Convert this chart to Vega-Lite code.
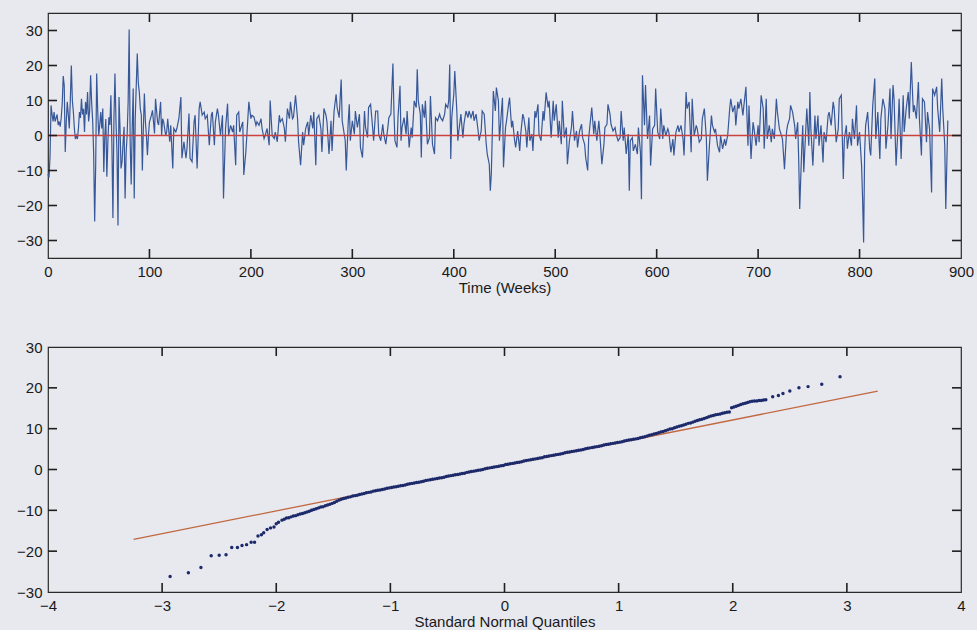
{
"$schema":"https://vega.github.io/schema/vega-lite/v6.json",
"background":"#e8e8ef",
"padding":{"left":15,"top":12,"right":5,"bottom":0},
"spacing":89,
"bounds":"flush",
"config":{
 "view":{"stroke":"#2a2a2a","strokeWidth":1.2},
 "axis":{"domain":false,"grid":false,"ticks":false,"labelFont":"Liberation Sans","labelFontSize":15,"labelColor":"#1a1a1a","labelFlush":false,"labelOverlap":false,"titleFont":"Liberation Sans","titleFontSize":15,"titleFontWeight":"normal","titleColor":"#1a1a1a"},
 "axisX":{"labelPadding":6,"titlePadding":1},
 "axisY":{"labelPadding":6},
 "tick":{"color":"#1f1f1f","thickness":1.6,"opacity":1}
},
"vconcat":[
{
 "width":913,"height":245,
 "layer":[
  {"data":{"values":[
{"w":0,"v":-11},{"w":1,"v":-12},{"w":2,"v":-6},{"w":3,"v":8.6},{"w":4,"v":6},{"w":5,"v":4},{"w":6,"v":6.7},{"w":7,"v":4},{"w":8,"v":5},{"w":9,"v":6},{"w":10,"v":3},{"w":11,"v":4},{"w":12,"v":2.5},{"w":13,"v":5},{"w":14,"v":9},{"w":15,"v":17},{"w":16,"v":14.3},{"w":17,"v":-4.7},{"w":18,"v":4},{"w":19,"v":9.6},{"w":20,"v":6},{"w":21,"v":2},{"w":22,"v":10},{"w":23,"v":20},{"w":24,"v":10},{"w":25,"v":6.7},{"w":26,"v":2},{"w":27,"v":-1},{"w":28,"v":0},{"w":29,"v":-1},{"w":30,"v":2},{"w":31,"v":6.7},{"w":32,"v":5},{"w":33,"v":10.5},{"w":34,"v":6},{"w":35,"v":7.6},{"w":36,"v":1},{"w":37,"v":9.6},{"w":38,"v":6},{"w":39,"v":12.4},{"w":40,"v":4},{"w":41,"v":6.7},{"w":42,"v":17.2},{"w":43,"v":9.6},{"w":44,"v":4.4},{"w":45,"v":-5},{"w":46,"v":-24.6},{"w":47,"v":-8.5},{"w":48,"v":17.7},{"w":49,"v":7},{"w":50,"v":0},{"w":51,"v":3},{"w":52,"v":6.7},{"w":53,"v":2},{"w":54,"v":7.7},{"w":55,"v":-10.4},{"w":56,"v":0},{"w":57,"v":4.7},{"w":58,"v":-11.8},{"w":59,"v":-2},{"w":60,"v":5.2},{"w":61,"v":3},{"w":62,"v":11.5},{"w":63,"v":-2.8},{"w":64,"v":-23.6},{"w":65,"v":5},{"w":66,"v":17.7},{"w":67,"v":4},{"w":68,"v":-4.7},{"w":69,"v":-25.7},{"w":70,"v":11},{"w":71,"v":2},{"w":72,"v":-9.4},{"w":73,"v":-7.5},{"w":74,"v":-2},{"w":75,"v":2.5},{"w":76,"v":-18},{"w":77,"v":-5},{"w":78,"v":0},{"w":79,"v":9.6},{"w":80,"v":30.3},{"w":81,"v":-1.9},{"w":82,"v":-14},{"w":83,"v":2},{"w":84,"v":13.4},{"w":85,"v":-18},{"w":86,"v":5},{"w":87,"v":14.3},{"w":88,"v":23.4},{"w":89,"v":15},{"w":90,"v":12.4},{"w":91,"v":7.6},{"w":92,"v":5.8},{"w":93,"v":-10},{"w":94,"v":2},{"w":95,"v":12},{"w":96,"v":4},{"w":97,"v":0},{"w":98,"v":-5.6},{"w":99,"v":0},{"w":100,"v":3.8},
{"w":102,"v":5.8},{"w":103,"v":7.2},{"w":105,"v":0.6},{"w":106,"v":10.5},{"w":108,"v":3.9},{"w":109,"v":3},{"w":111,"v":9.6},{"w":112,"v":0.1},{"w":113,"v":4.8},{"w":114,"v":3.9},{"w":116,"v":0},{"w":117,"v":1},{"w":118,"v":4.8},{"w":120,"v":-1.8},{"w":121,"v":2.9},{"w":123,"v":-9.4},{"w":124,"v":2},{"w":126,"v":1},{"w":127,"v":2},{"w":129,"v":4.8},{"w":131,"v":11},{"w":132,"v":-6.5},{"w":134,"v":-1.8},{"w":136,"v":-6.5},{"w":137,"v":-3.7},{"w":139,"v":6.3},{"w":140,"v":-6.5},{"w":142,"v":-7.5},{"w":144,"v":3.9},{"w":145,"v":5.8},{"w":147,"v":-9.4},{"w":149,"v":7.7},{"w":150,"v":9.6},{"w":152,"v":5.8},{"w":154,"v":6.7},{"w":155,"v":4.8},{"w":157,"v":5.8},{"w":159,"v":-2.8},{"w":161,"v":5.8},{"w":162,"v":6.7},{"w":164,"v":-2.8},{"w":165,"v":3.9},{"w":167,"v":7.7},{"w":168,"v":5.8},{"w":170,"v":0},{"w":172,"v":5.8},{"w":173,"v":-18},{"w":175,"v":2},{"w":177,"v":9.1},{"w":178,"v":0},{"w":180,"v":2.9},{"w":182,"v":1},{"w":183,"v":2.9},{"w":185,"v":-8.5},{"w":186,"v":5.8},{"w":188,"v":6.7},{"w":189,"v":1},{"w":190,"v":2},{"w":192,"v":3.9},{"w":193,"v":-11.3},{"w":195,"v":-4.7},{"w":196,"v":0},{"w":198,"v":9.6},{"w":200,"v":4.8},{"w":201,"v":5.8},{"w":203,"v":5.3},{"w":205,"v":2.9},{"w":206,"v":3.9},{"w":208,"v":2.9},{"w":210,"v":4.8},{"w":211,"v":2},{"w":213,"v":-0.9},{"w":214,"v":0},{"w":216,"v":2},{"w":218,"v":-2.8},{"w":219,"v":10},{"w":221,"v":0},{"w":223,"v":-0.9},{"w":224,"v":1},{"w":226,"v":-1.8},{"w":228,"v":5.8},{"w":229,"v":3.9},{"w":231,"v":4.8},{"w":233,"v":2},{"w":234,"v":-1.8},{"w":236,"v":7.7},{"w":238,"v":4.8},{"w":239,"v":9.6},{"w":241,"v":4.8},{"w":242,"v":5.3},{"w":244,"v":11.5},{"w":246,"v":4.8},{"w":247,"v":-1.8},{"w":249,"v":-8.5},{"w":251,"v":1},{"w":252,"v":-2.8},{"w":254,"v":2},{"w":256,"v":3.9},{"w":257,"v":0},{"w":259,"v":5.8},{"w":261,"v":2},{"w":262,"v":6.7},{"w":264,"v":-8.5},{"w":265,"v":4.8},{"w":267,"v":5.8},{"w":269,"v":2},{"w":270,"v":-4.7},{"w":272,"v":7.7},{"w":274,"v":5.8},{"w":275,"v":3.9},
{"w":277,"v":-5.3},{"w":279,"v":4.2},{"w":280,"v":-4.4},{"w":282,"v":7},{"w":284,"v":11.8},{"w":285,"v":8},{"w":287,"v":5.1},{"w":289,"v":16},{"w":290,"v":4.2},{"w":292,"v":0.4},{"w":293,"v":-1.5},{"w":294,"v":-10},{"w":296,"v":4.2},{"w":297,"v":8.9},{"w":298,"v":-1.5},{"w":300,"v":4.2},{"w":302,"v":0.4},{"w":303,"v":7},{"w":305,"v":2.3},{"w":307,"v":6.1},{"w":308,"v":-3.4},{"w":310,"v":-6.3},{"w":312,"v":7},{"w":313,"v":2.3},{"w":315,"v":-0.6},{"w":316,"v":8},{"w":318,"v":8.9},{"w":320,"v":2.3},{"w":321,"v":-1.5},{"w":323,"v":7},{"w":325,"v":7},{"w":326,"v":0.4},{"w":328,"v":-1.5},{"w":330,"v":3.2},{"w":331,"v":0.4},{"w":333,"v":-2.5},{"w":335,"v":2.3},{"w":336,"v":5.1},{"w":338,"v":6.1},{"w":340,"v":20.6},{"w":341,"v":7},{"w":342,"v":-1.5},{"w":344,"v":-3.4},{"w":345,"v":5.1},{"w":347,"v":14.2},{"w":348,"v":-1.5},{"w":349,"v":2.3},{"w":351,"v":5.1},{"w":353,"v":0.4},{"w":354,"v":7},{"w":356,"v":-3.4},{"w":358,"v":2.3},{"w":359,"v":-0.6},{"w":361,"v":9.9},{"w":363,"v":8},{"w":364,"v":18.9},{"w":365,"v":9.9},{"w":367,"v":6.1},{"w":368,"v":-6.3},{"w":369,"v":8.9},{"w":371,"v":5.1},{"w":372,"v":9.9},{"w":374,"v":-2.5},{"w":376,"v":-0.6},{"w":377,"v":11.3},{"w":379,"v":-2.5},{"w":381,"v":-5.3},{"w":382,"v":5.1},{"w":384,"v":4.2},{"w":386,"v":6.1},{"w":387,"v":5.1},{"w":389,"v":4.2},{"w":391,"v":6.1},{"w":392,"v":8.9},{"w":394,"v":8},{"w":395,"v":9.9},{"w":396,"v":20.3},{"w":397,"v":-6.7},{"w":398,"v":5.1},{"w":400,"v":11.8},{"w":401,"v":18.4},{"w":403,"v":7},{"w":404,"v":-1.5},{"w":405,"v":1.3},{"w":407,"v":6.1},{"w":409,"v":-0.6},{"w":410,"v":3.2},{"w":412,"v":7},{"w":414,"v":5.1},{"w":415,"v":7},{"w":417,"v":5.1},{"w":419,"v":7},{"w":420,"v":4.2},{"w":422,"v":6.1},{"w":424,"v":1.3},{"w":425,"v":-1.5},{"w":427,"v":1.3},{"w":428,"v":7},{"w":430,"v":6.1},{"w":432,"v":-2.5},{"w":433,"v":-5.3},{"w":435,"v":-8.2},{"w":436,"v":-15.8},{"w":437,"v":-11},{"w":439,"v":12.7},{"w":441,"v":7},{"w":442,"v":13.7},{"w":444,"v":9.9},{"w":445,"v":-1.5},{"w":447,"v":7},{"w":448,"v":10.8},{"w":449,"v":-9.1},{"w":451,"v":2.3},{"w":452,"v":4.2},{"w":454,"v":8.9},{"w":455,"v":10.8},{"w":457,"v":2.3},{"w":458,"v":4.2},{"w":460,"v":-1.5},{"w":461,"v":-3.4},{"w":463,"v":1.3},{"w":465,"v":-4.4},{"w":466,"v":0.4},{"w":468,"v":6.1},{"w":469,"v":5.1},{"w":471,"v":1.3},{"w":472,"v":-3.4},{"w":474,"v":5.1},{"w":475,"v":-1.5},{"w":477,"v":0.4},{"w":478,"v":-4.4},{"w":480,"v":7},{"w":481,"v":5.1},{"w":483,"v":8.9},{"w":484,"v":0.4},{"w":486,"v":-1.5},{"w":488,"v":7},{"w":489,"v":4.2},{"w":491,"v":12.3},{"w":493,"v":8},{"w":494,"v":9.9},{"w":496,"v":-0.6},{"w":498,"v":9.9},{"w":499,"v":4.2},{"w":501,"v":8.9},{"w":503,"v":-0.6},{"w":504,"v":4.2},{"w":506,"v":-2.5},{"w":507,"v":9.9},{"w":509,"v":-0.6},{"w":511,"v":2.3},{"w":512,"v":-8.2},{"w":514,"v":-1.5},{"w":516,"v":2.3},{"w":517,"v":7},{"w":519,"v":-1.5},{"w":521,"v":1.3},{"w":522,"v":-3.4},{"w":524,"v":1.3},{"w":526,"v":3.2},{"w":527,"v":-0.6},{"w":529,"v":-2.5},{"w":530,"v":-6.3},{"w":532,"v":-10},{"w":533,"v":-0.6},{"w":535,"v":5.1},{"w":536,"v":8},{"w":538,"v":0.4},{"w":539,"v":4.2},{"w":541,"v":-1.5},{"w":543,"v":4.2},{"w":544,"v":0.4},{"w":546,"v":-8.2},{"w":548,"v":-2.5},{"w":549,"v":2.3},{"w":551,"v":3.2},{"w":552,"v":8.9},{"w":554,"v":6.1},{"w":555,"v":3.2},{"w":557,"v":1.3},{"w":559,"v":2.3},{"w":560,"v":0.4},{"w":562,"v":-1.5},{"w":564,"v":-0.6},{"w":565,"v":7},{"w":567,"v":-1.5},{"w":568,"v":2.3},{"w":570,"v":-5.3},{"w":572,"v":0.4},{"w":573,"v":-15.8},{"w":574,"v":-1.5},{"w":576,"v":-0.6},{"w":577,"v":-4.4},{"w":579,"v":-2.5},{"w":581,"v":-5.3},{"w":582,"v":2.3},
{"w":584,"v":-4.8},{"w":585,"v":-18.2},{"w":586,"v":17.2},{"w":588,"v":2.9},{"w":589,"v":14.4},{"w":591,"v":-1},{"w":593,"v":5.7},{"w":594,"v":-8.6},{"w":596,"v":1.9},{"w":598,"v":2.9},{"w":599,"v":13.4},{"w":601,"v":1},{"w":603,"v":-1},{"w":604,"v":7.7},{"w":606,"v":-1},{"w":607,"v":2.9},{"w":609,"v":0},{"w":611,"v":1.9},{"w":612,"v":1},{"w":614,"v":-4.8},{"w":616,"v":-1},{"w":617,"v":-5.7},{"w":619,"v":1},{"w":621,"v":2.9},{"w":622,"v":1},{"w":624,"v":2.9},{"w":626,"v":-1},{"w":627,"v":-5.7},{"w":629,"v":12.4},{"w":630,"v":7.7},{"w":632,"v":9.6},{"w":634,"v":-4.8},{"w":635,"v":10.5},{"w":637,"v":0},{"w":639,"v":2.9},{"w":640,"v":1.9},{"w":642,"v":-1.9},{"w":644,"v":-1},{"w":645,"v":4.8},{"w":647,"v":7.7},{"w":649,"v":-1},{"w":650,"v":-12.9},{"w":652,"v":-2.9},{"w":654,"v":5.7},{"w":655,"v":2.9},{"w":657,"v":1},{"w":658,"v":1.9},{"w":660,"v":-2.9},{"w":662,"v":-4.8},{"w":663,"v":0},{"w":665,"v":-3.8},{"w":667,"v":-1},{"w":668,"v":-2.9},{"w":670,"v":0},{"w":672,"v":7.7},{"w":673,"v":10.5},{"w":675,"v":6.7},{"w":677,"v":8.6},{"w":678,"v":2.9},{"w":680,"v":9.6},{"w":681,"v":7.7},{"w":683,"v":10.5},{"w":685,"v":5.7},{"w":686,"v":8.6},{"w":688,"v":13.9},{"w":690,"v":-2.9},{"w":691,"v":8.6},{"w":693,"v":-6.7},{"w":695,"v":3.8},{"w":696,"v":1.9},{"w":698,"v":-2.9},{"w":700,"v":2.9},{"w":701,"v":-1.9},{"w":703,"v":11.5},{"w":705,"v":7.7},{"w":706,"v":-3.8},{"w":708,"v":10.5},{"w":709,"v":-1},{"w":711,"v":2.9},{"w":713,"v":-1.9},{"w":714,"v":1.9},{"w":716,"v":-1},{"w":718,"v":10.5},{"w":719,"v":6.7},{"w":721,"v":1.9},{"w":723,"v":0},{"w":724,"v":-1},{"w":726,"v":-9.6},{"w":728,"v":1},{"w":729,"v":2.9},{"w":731,"v":4.8},{"w":732,"v":8.6},{"w":734,"v":6.7},{"w":736,"v":2.9},{"w":737,"v":-1},{"w":739,"v":3.8},{"w":740,"v":-6.7},{"w":741,"v":-21},{"w":743,"v":-3.8},{"w":744,"v":2.9},{"w":745,"v":-10.5},{"w":747,"v":1.9},{"w":748,"v":7.7},{"w":750,"v":-2.9},{"w":751,"v":12.4},{"w":752,"v":1.9},{"w":754,"v":-8.6},{"w":756,"v":5.7},{"w":757,"v":-1},{"w":759,"v":5.7},{"w":760,"v":-2.9},{"w":762,"v":2.9},{"w":764,"v":-7.7},{"w":765,"v":1},{"w":767,"v":-1.9},{"w":769,"v":5.7},{"w":770,"v":6.7},{"w":772,"v":2.9},{"w":774,"v":9.6},{"w":775,"v":7.7},{"w":777,"v":-1.9},{"w":779,"v":1.9},{"w":780,"v":10.5},{"w":782,"v":11.5},{"w":784,"v":-12.4},{"w":785,"v":-1},{"w":787,"v":2.9},{"w":788,"v":-3.8},{"w":790,"v":1},{"w":792,"v":-2.9},{"w":793,"v":4.8},{"w":795,"v":-1},{"w":797,"v":8.6},{"w":798,"v":-2.9},{"w":800,"v":1},{"w":802,"v":-8.6},{"w":803,"v":-18.2},{"w":804,"v":-30.6},{"w":805,"v":-4.8},{"w":806,"v":2.9},{"w":808,"v":6.7},{"w":810,"v":-3.8},{"w":811,"v":-5.7},{"w":813,"v":8.6},{"w":815,"v":16.3},{"w":816,"v":-1},{"w":818,"v":6.7},{"w":820,"v":-6.7},{"w":821,"v":4.8},{"w":823,"v":10.5},{"w":825,"v":7.7},{"w":826,"v":-3.8},{"w":828,"v":2.9},{"w":830,"v":13.4},{"w":831,"v":-1},{"w":833,"v":14.4},{"w":834,"v":10.5},{"w":836,"v":-8.6},{"w":838,"v":2.9},{"w":839,"v":10.5},{"w":841,"v":-6.7},{"w":843,"v":11.5},{"w":844,"v":1},{"w":846,"v":7.7},{"w":848,"v":12.4},{"w":849,"v":4.8},{"w":851,"v":21},{"w":853,"v":6.7},{"w":854,"v":8.6},{"w":856,"v":4.8},{"w":858,"v":15.3},{"w":859,"v":4.8},{"w":861,"v":-5.7},{"w":862,"v":10.5},{"w":864,"v":9.6},{"w":866,"v":-1.9},{"w":867,"v":6.7},{"w":869,"v":1.9},{"w":871,"v":-16.3},{"w":872,"v":13.4},{"w":874,"v":11.5},{"w":876,"v":13.9},{"w":877,"v":7.7},{"w":879,"v":1},{"w":881,"v":16.3},{"w":882,"v":7.7},{"w":884,"v":-2.9},{"w":885,"v":-21},{"w":887,"v":4.3}
  ]},
   "mark":{"type":"line","color":"#375898","strokeWidth":1.2},
   "encoding":{
    "x":{"field":"w","type":"quantitative","scale":{"domain":[0,900],"nice":false,"zero":false},"axis":{"values":[0,100,200,300,400,500,600,700,800,900],"title":"Time (Weeks)"}},
    "y":{"field":"v","type":"quantitative","scale":{"domain":[-35,35],"nice":false},"axis":{"values":[-30,-20,-10,0,10,20,30],"title":null}}
   }},
  {"data":{"values":[{"m":0}]},
   "mark":{"type":"rule","color":"#c8423f","strokeWidth":1.5},
   "encoding":{"y":{"field":"m","type":"quantitative","scale":{"domain":[-35,35],"nice":false},"axis":null}}},
  {"data":{"values":[{"t":100},{"t":200},{"t":300},{"t":400},{"t":500},{"t":600},{"t":700},{"t":800}]},
   "mark":{"type":"tick","orient":"vertical","size":18,"clip":true},
   "encoding":{"x":{"field":"t","type":"quantitative","scale":{"domain":[0,900],"nice":false,"zero":false},"axis":null},"y":{"datum":-35,"type":"quantitative","scale":{"domain":[-35,35],"nice":false},"axis":null}}},
  {"data":{"values":[{"t":100},{"t":200},{"t":300},{"t":400},{"t":500},{"t":600},{"t":700},{"t":800}]},
   "mark":{"type":"tick","orient":"vertical","size":18,"clip":true},
   "encoding":{"x":{"field":"t","type":"quantitative","scale":{"domain":[0,900],"nice":false,"zero":false},"axis":null},"y":{"datum":35,"type":"quantitative","scale":{"domain":[-35,35],"nice":false},"axis":null}}},
  {"data":{"values":[{"t":-30},{"t":-20},{"t":-10},{"t":0},{"t":10},{"t":20},{"t":30}]},
   "mark":{"type":"tick","orient":"horizontal","size":18,"clip":true},
   "encoding":{"y":{"field":"t","type":"quantitative","scale":{"domain":[-35,35],"nice":false},"axis":null},"x":{"datum":0,"type":"quantitative","scale":{"domain":[0,900],"nice":false,"zero":false},"axis":null}}},
  {"data":{"values":[{"t":-30},{"t":-20},{"t":-10},{"t":0},{"t":10},{"t":20},{"t":30}]},
   "mark":{"type":"tick","orient":"horizontal","size":18,"clip":true},
   "encoding":{"y":{"field":"t","type":"quantitative","scale":{"domain":[-35,35],"nice":false},"axis":null},"x":{"datum":900,"type":"quantitative","scale":{"domain":[0,900],"nice":false,"zero":false},"axis":null}}}
 ],
 "resolve":{"axis":{"x":"independent","y":"independent"}}
},
{
 "width":913,"height":245,
 "layer":[
  {"data":{"values":[{"q":-3.25,"v":-17.1},{"q":3.27,"v":19.2}]},
   "mark":{"type":"line","color":"#c2683f","strokeWidth":1.3},
   "encoding":{
    "x":{"field":"q","type":"quantitative","scale":{"domain":[-4,4],"nice":false,"zero":false},"axis":{"values":[-4,-3,-2,-1,0,1,2,3,4],"title":"Standard Normal Quantiles"}},
    "y":{"field":"v","type":"quantitative","scale":{"domain":[-30,30],"nice":false},"axis":{"values":[-30,-20,-10,0,10,20,30],"title":null}}
   }},
  {"data":{"values":[
{"q":-2.93,"v":-26.2},{"q":-2.77,"v":-25.3},{"q":-2.66,"v":-24.0},{"q":-2.57,"v":-21.1},{"q":-2.50,"v":-21.0},{"q":-2.44,"v":-20.9},{"q":-2.39,"v":-19.1},{"q":-2.34,"v":-19.1},{"q":-2.30,"v":-18.6},{"q":-2.26,"v":-18.4},{"q":-2.22,"v":-17.8},{"q":-2.19,"v":-17.8},{"q":-2.16,"v":-16.3},{"q":-2.13,"v":-16.0},{"q":-2.11,"v":-15.5},{"q":-2.08,"v":-14.7},{"q":-2.05,"v":-14.3},{"q":-2.02,"v":-14.1},{"q":-2.00,"v":-13.3},{"q":-1.98,"v":-12.9},{"q":-1.95,"v":-12.4},
{"q":-1.93,"v":-12.2},{"q":-1.91,"v":-11.9},{"q":-1.89,"v":-11.8},{"q":-1.87,"v":-11.6},{"q":-1.85,"v":-11.4},{"q":-1.83,"v":-11.3},{"q":-1.81,"v":-11.1},{"q":-1.79,"v":-10.9},{"q":-1.77,"v":-10.8},{"q":-1.75,"v":-10.6},{"q":-1.73,"v":-10.4},{"q":-1.71,"v":-10.2},{"q":-1.69,"v":-10.0},{"q":-1.67,"v":-9.8},{"q":-1.65,"v":-9.6},{"q":-1.63,"v":-9.4},{"q":-1.61,"v":-9.2},{"q":-1.59,"v":-9.1},{"q":-1.57,"v":-8.9},{"q":-1.55,"v":-8.7},{"q":-1.53,"v":-8.5},{"q":-1.51,"v":-8.3},{"q":-1.49,"v":-8.1},{"q":-1.47,"v":-7.8},{"q":-1.45,"v":-7.5},{"q":-1.43,"v":-7.3},{"q":-1.41,"v":-7.1},{"q":-1.39,"v":-7.0},{"q":-1.37,"v":-6.8},{"q":-1.35,"v":-6.7},{"q":-1.33,"v":-6.5},{"q":-1.31,"v":-6.4},{"q":-1.29,"v":-6.3},{"q":-1.27,"v":-6.1},{"q":-1.25,"v":-6.0},{"q":-1.23,"v":-5.9},{"q":-1.21,"v":-5.7},{"q":-1.19,"v":-5.6},{"q":-1.17,"v":-5.5},{"q":-1.15,"v":-5.3},{"q":-1.13,"v":-5.2},{"q":-1.11,"v":-5.1},{"q":-1.09,"v":-5.0},{"q":-1.07,"v":-4.9},{"q":-1.05,"v":-4.8},{"q":-1.03,"v":-4.6},{"q":-1.01,"v":-4.5},{"q":-0.99,"v":-4.4},{"q":-0.97,"v":-4.3},{"q":-0.95,"v":-4.2},{"q":-0.93,"v":-4.1},{"q":-0.91,"v":-4.0},{"q":-0.89,"v":-3.9},{"q":-0.87,"v":-3.8},{"q":-0.85,"v":-3.6},{"q":-0.83,"v":-3.5},{"q":-0.81,"v":-3.4},{"q":-0.79,"v":-3.3},{"q":-0.77,"v":-3.2},{"q":-0.75,"v":-3.1},{"q":-0.73,"v":-3.0},{"q":-0.71,"v":-2.9},{"q":-0.69,"v":-2.7},{"q":-0.67,"v":-2.6},{"q":-0.65,"v":-2.5},{"q":-0.63,"v":-2.4},{"q":-0.61,"v":-2.3},{"q":-0.59,"v":-2.2},{"q":-0.57,"v":-2.1},{"q":-0.55,"v":-2.0},{"q":-0.53,"v":-1.9},{"q":-0.51,"v":-1.7},{"q":-0.49,"v":-1.6},{"q":-0.47,"v":-1.5},{"q":-0.45,"v":-1.4},{"q":-0.43,"v":-1.3},{"q":-0.41,"v":-1.2},{"q":-0.39,"v":-1.1},{"q":-0.37,"v":-1.0},{"q":-0.35,"v":-0.9},{"q":-0.33,"v":-0.7},{"q":-0.31,"v":-0.6},{"q":-0.29,"v":-0.5},{"q":-0.27,"v":-0.4},{"q":-0.25,"v":-0.3},{"q":-0.23,"v":-0.2},{"q":-0.21,"v":-0.1},{"q":-0.19,"v":0.0},{"q":-0.17,"v":0.2},{"q":-0.15,"v":0.3},{"q":-0.13,"v":0.4},{"q":-0.11,"v":0.5},{"q":-0.09,"v":0.6},{"q":-0.07,"v":0.7},{"q":-0.05,"v":0.8},{"q":-0.03,"v":0.9},{"q":-0.01,"v":1.0},{"q":0.01,"v":1.2},{"q":0.03,"v":1.3},{"q":0.05,"v":1.4},{"q":0.07,"v":1.5},{"q":0.09,"v":1.6},{"q":0.11,"v":1.7},{"q":0.13,"v":1.8},{"q":0.15,"v":1.9},{"q":0.17,"v":2.1},{"q":0.19,"v":2.2},{"q":0.21,"v":2.3},{"q":0.23,"v":2.4},{"q":0.25,"v":2.5},{"q":0.27,"v":2.6},{"q":0.29,"v":2.7},{"q":0.31,"v":2.8},{"q":0.33,"v":2.9},{"q":0.35,"v":3.1},{"q":0.37,"v":3.2},{"q":0.39,"v":3.3},{"q":0.41,"v":3.4},{"q":0.43,"v":3.5},{"q":0.45,"v":3.6},{"q":0.47,"v":3.7},{"q":0.49,"v":3.8},{"q":0.51,"v":3.9},{"q":0.53,"v":4.1},{"q":0.55,"v":4.2},{"q":0.57,"v":4.3},{"q":0.59,"v":4.4},{"q":0.61,"v":4.5},{"q":0.63,"v":4.6},{"q":0.65,"v":4.7},{"q":0.67,"v":4.8},{"q":0.69,"v":4.9},{"q":0.71,"v":5.1},{"q":0.73,"v":5.2},{"q":0.75,"v":5.3},{"q":0.77,"v":5.4},{"q":0.79,"v":5.5},{"q":0.81,"v":5.6},{"q":0.83,"v":5.7},{"q":0.85,"v":5.8},{"q":0.87,"v":6.0},{"q":0.89,"v":6.1},{"q":0.91,"v":6.2},{"q":0.93,"v":6.3},{"q":0.95,"v":6.4},{"q":0.97,"v":6.5},{"q":0.99,"v":6.6},{"q":1.01,"v":6.7},{"q":1.03,"v":6.8},{"q":1.05,"v":7.0},{"q":1.07,"v":7.1},{"q":1.09,"v":7.2},{"q":1.11,"v":7.3},{"q":1.13,"v":7.4},{"q":1.15,"v":7.5},{"q":1.17,"v":7.6},{"q":1.19,"v":7.8},{"q":1.21,"v":7.9},{"q":1.23,"v":8.0},{"q":1.25,"v":8.2},{"q":1.27,"v":8.4},{"q":1.29,"v":8.5},{"q":1.31,"v":8.7},{"q":1.33,"v":8.8},{"q":1.35,"v":9.0},{"q":1.37,"v":9.2},{"q":1.39,"v":9.3},{"q":1.41,"v":9.5},{"q":1.43,"v":9.7},{"q":1.45,"v":9.9},{"q":1.47,"v":10.0},{"q":1.49,"v":10.2},{"q":1.51,"v":10.4},{"q":1.53,"v":10.6},{"q":1.55,"v":10.7},{"q":1.57,"v":10.9},{"q":1.59,"v":11.1},{"q":1.61,"v":11.3},{"q":1.63,"v":11.4},{"q":1.65,"v":11.6},{"q":1.67,"v":11.8},{"q":1.69,"v":12.0},{"q":1.71,"v":12.2},{"q":1.73,"v":12.3},{"q":1.75,"v":12.5},{"q":1.77,"v":12.7},{"q":1.79,"v":12.9},{"q":1.81,"v":13.1},{"q":1.83,"v":13.2},{"q":1.85,"v":13.4},{"q":1.87,"v":13.5},{"q":1.89,"v":13.6},{"q":1.91,"v":13.8},{"q":1.93,"v":13.9},{"q":1.95,"v":14.0},{"q":1.97,"v":14.1},
{"q":1.99,"v":15.1},{"q":2.01,"v":15.3},{"q":2.03,"v":15.5},{"q":2.05,"v":15.7},{"q":2.07,"v":15.9},{"q":2.09,"v":16.1},{"q":2.11,"v":16.2},{"q":2.13,"v":16.4},{"q":2.15,"v":16.6},{"q":2.17,"v":16.7},{"q":2.19,"v":16.8},{"q":2.21,"v":16.8},{"q":2.23,"v":16.9},{"q":2.25,"v":16.9},{"q":2.27,"v":17.0},{"q":2.29,"v":17.1},
{"q":2.35,"v":17.8},{"q":2.40,"v":18.1},{"q":2.44,"v":18.6},{"q":2.50,"v":19.2},{"q":2.58,"v":20.0},{"q":2.66,"v":20.3},{"q":2.78,"v":20.9},{"q":2.94,"v":22.7}
  ]},
   "mark":{"type":"circle","color":"#1c2a6b","size":12,"opacity":1},
   "encoding":{
    "x":{"field":"q","type":"quantitative","scale":{"domain":[-4,4],"nice":false,"zero":false},"axis":null},
    "y":{"field":"v","type":"quantitative","scale":{"domain":[-30,30],"nice":false},"axis":null}
   }},
  {"data":{"values":[{"t":-3},{"t":-2},{"t":-1},{"t":0},{"t":1},{"t":2},{"t":3}]},
   "mark":{"type":"tick","orient":"vertical","size":18,"clip":true},
   "encoding":{"x":{"field":"t","type":"quantitative","scale":{"domain":[-4,4],"nice":false,"zero":false},"axis":null},"y":{"datum":-30,"type":"quantitative","scale":{"domain":[-30,30],"nice":false},"axis":null}}},
  {"data":{"values":[{"t":-3},{"t":-2},{"t":-1},{"t":0},{"t":1},{"t":2},{"t":3}]},
   "mark":{"type":"tick","orient":"vertical","size":18,"clip":true},
   "encoding":{"x":{"field":"t","type":"quantitative","scale":{"domain":[-4,4],"nice":false,"zero":false},"axis":null},"y":{"datum":30,"type":"quantitative","scale":{"domain":[-30,30],"nice":false},"axis":null}}},
  {"data":{"values":[{"t":-20},{"t":-10},{"t":0},{"t":10},{"t":20}]},
   "mark":{"type":"tick","orient":"horizontal","size":18,"clip":true},
   "encoding":{"y":{"field":"t","type":"quantitative","scale":{"domain":[-30,30],"nice":false},"axis":null},"x":{"datum":-4,"type":"quantitative","scale":{"domain":[-4,4],"nice":false,"zero":false},"axis":null}}},
  {"data":{"values":[{"t":-20},{"t":-10},{"t":0},{"t":10},{"t":20}]},
   "mark":{"type":"tick","orient":"horizontal","size":18,"clip":true},
   "encoding":{"y":{"field":"t","type":"quantitative","scale":{"domain":[-30,30],"nice":false},"axis":null},"x":{"datum":4,"type":"quantitative","scale":{"domain":[-4,4],"nice":false,"zero":false},"axis":null}}}
 ],
 "resolve":{"axis":{"x":"independent","y":"independent"}}
}
]
}
